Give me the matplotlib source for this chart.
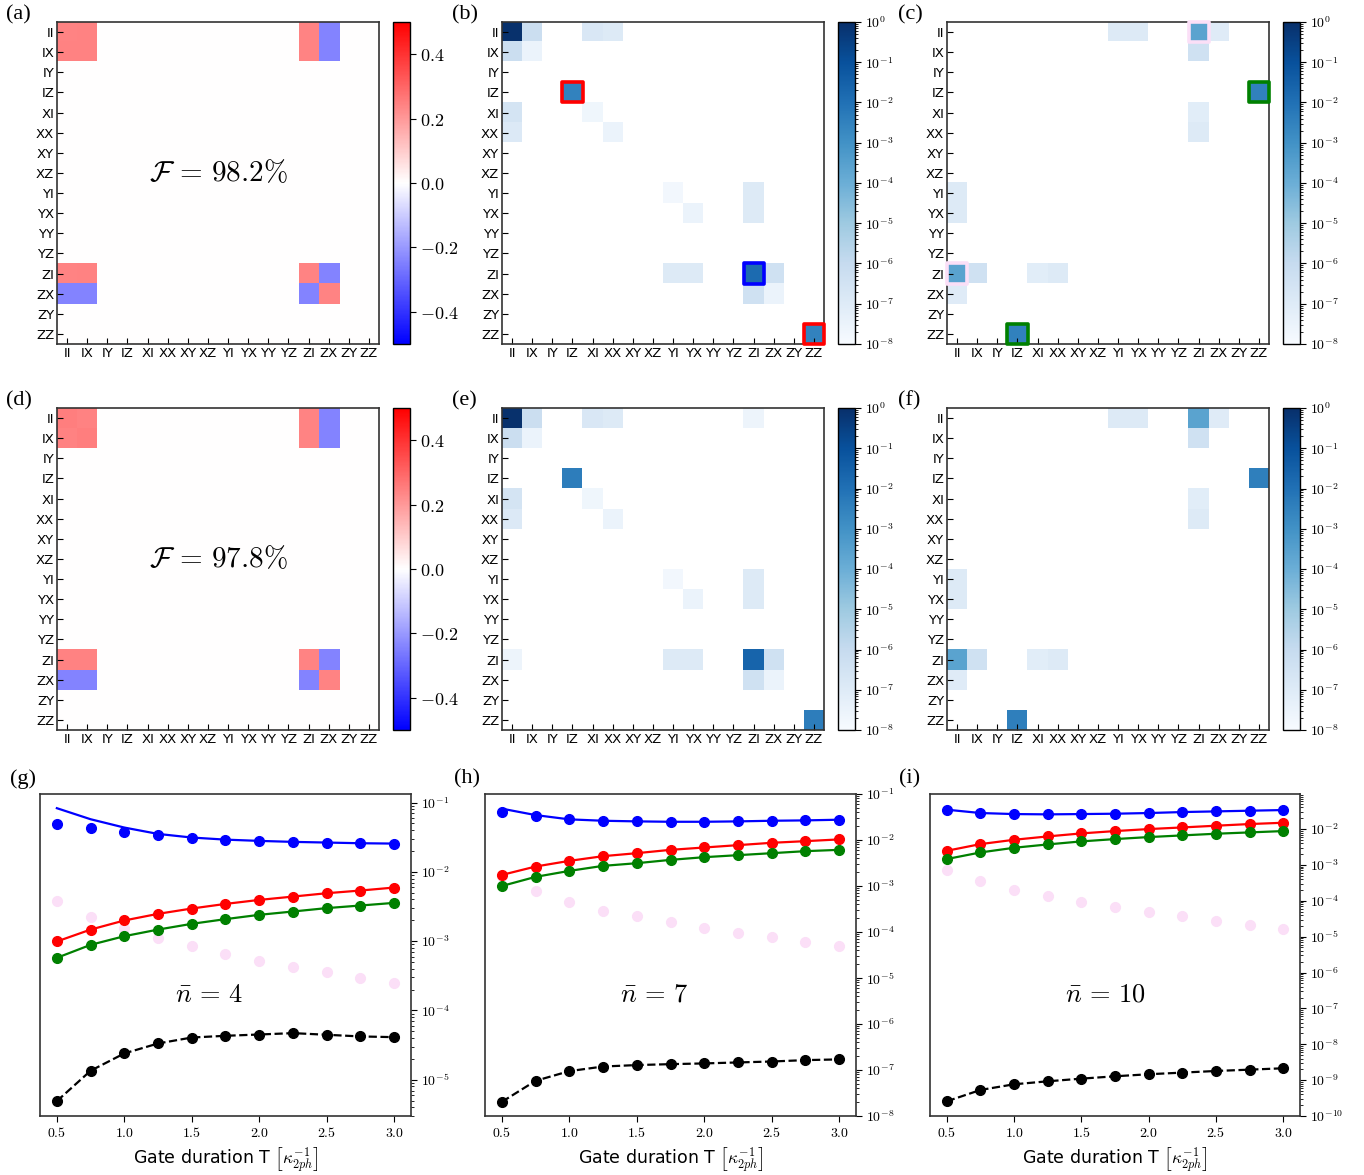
import numpy as np
import matplotlib
matplotlib.use('Agg')
import matplotlib.pyplot as plt
from matplotlib.colors import LogNorm
from matplotlib.patches import Rectangle
from matplotlib.ticker import FuncFormatter, LogLocator, NullFormatter

plt.rcParams['mathtext.fontset'] = 'cm'

paulis = ['II', 'IX', 'IY', 'IZ', 'XI', 'XX', 'XY', 'XZ',
          'YI', 'YX', 'YY', 'YZ', 'ZI', 'ZX', 'ZY', 'ZZ']

# real part of the process matrix, only the II/IX/ZI/ZX block is non zero
block_ops = ['II', 'IX', 'ZI', 'ZX']
chi_a = [[0.240, 0.243, 0.240, -0.240],
         [0.243, 0.245, 0.240, -0.240],
         [0.240, 0.243, 0.240, -0.240],
         [-0.240, -0.240, -0.240, 0.240]]
chi_d = [[0.250, 0.245, 0.240, -0.240],
         [0.245, 0.250, 0.240, -0.240],
         [0.245, 0.245, 0.240, -0.240],
         [-0.240, -0.240, -0.240, 0.240]]
fid_a = '98.2'
fid_d = '97.8'

# error process matrices (row, col, |value|)
err_b = [('II', 'II', 0.9), ('II', 'IX', 6e-7), ('II', 'XI', 1.6e-7), ('II', 'XX', 1e-7),
         ('IX', 'II', 6e-7), ('IX', 'IX', 3e-8), ('IZ', 'IZ', 2.8e-3),
         ('XI', 'II', 2.5e-7), ('XI', 'XI', 2e-8), ('XX', 'II', 1.2e-7), ('XX', 'XX', 3e-8),
         ('YI', 'YI', 1.6e-8), ('YI', 'ZI', 1e-7), ('YX', 'YX', 3e-8), ('YX', 'ZI', 1e-7),
         ('ZI', 'YI', 1e-7), ('ZI', 'YX', 1e-7), ('ZI', 'ZI', 1.5e-2), ('ZI', 'ZX', 4e-7),
         ('ZX', 'ZI', 4e-7), ('ZX', 'ZX', 3e-8), ('ZZ', 'ZZ', 2.8e-3)]
err_e = [('II', 'II', 0.9), ('II', 'IX', 6e-7), ('II', 'XI', 1.6e-7), ('II', 'XX', 1e-7),
         ('II', 'ZI', 2.5e-8),
         ('IX', 'II', 6e-7), ('IX', 'IX', 3e-8), ('IZ', 'IZ', 4e-3),
         ('XI', 'II', 2.5e-7), ('XI', 'XI', 2e-8), ('XX', 'II', 1.2e-7), ('XX', 'XX', 3e-8),
         ('YI', 'YI', 1.6e-8), ('YI', 'ZI', 1e-7), ('YX', 'YX', 3e-8), ('YX', 'ZI', 1e-7),
         ('ZI', 'II', 2.5e-8), ('ZI', 'YI', 1e-7), ('ZI', 'YX', 1e-7), ('ZI', 'ZI', 2.5e-2),
         ('ZI', 'ZX', 4e-7), ('ZX', 'ZI', 4e-7), ('ZX', 'ZX', 3e-8), ('ZZ', 'ZZ', 4e-3)]
err_c = [('II', 'YI', 1e-7), ('II', 'YX', 1e-7), ('II', 'ZI', 2.5e-4), ('II', 'ZX', 9e-8),
         ('IX', 'ZI', 4e-7), ('IZ', 'ZZ', 3e-3), ('XI', 'ZI', 7e-8), ('XX', 'ZI', 1e-7),
         ('YI', 'II', 1e-7), ('YX', 'II', 1e-7),
         ('ZI', 'II', 2.5e-4), ('ZI', 'IX', 4e-7), ('ZI', 'XI', 7e-8), ('ZI', 'XX', 1e-7),
         ('ZX', 'II', 9e-8), ('ZZ', 'IZ', 3e-3)]
err_f = [('II', 'YI', 1e-7), ('II', 'YX', 1e-7), ('II', 'ZI', 2.5e-4), ('II', 'ZX', 9e-8),
         ('IX', 'ZI', 4e-7), ('IZ', 'ZZ', 3.5e-3), ('XI', 'ZI', 7e-8), ('XX', 'ZI', 1e-7),
         ('YI', 'II', 1e-7), ('YX', 'II', 1e-7),
         ('ZI', 'II', 2.5e-4), ('ZI', 'IX', 4e-7), ('ZI', 'XI', 7e-8), ('ZI', 'XX', 1e-7),
         ('ZX', 'II', 9e-8), ('ZZ', 'IZ', 3.5e-3)]

pink = '#fbdff7'
boxes_b = [('IZ', 'IZ', 'red'), ('ZZ', 'ZZ', 'red'), ('ZI', 'ZI', 'blue')]
boxes_c = [('IZ', 'ZZ', 'green'), ('ZZ', 'IZ', 'green'), ('II', 'ZI', pink), ('ZI', 'II', pink)]

# error rates vs gate duration
T = [0.5, 0.75, 1.0, 1.25, 1.5, 1.75, 2.0, 2.25, 2.5, 2.75, 3.0]

g_blue = [0.049, 0.0427, 0.0378, 0.0338, 0.0313, 0.0292, 0.028, 0.0271, 0.0265, 0.0259, 0.0256]
g_blue_fit = [0.083, 0.0575, 0.0436, 0.0353, 0.0313, 0.0292, 0.028, 0.0271, 0.0265, 0.0259, 0.0256]
g_red = [0.00099, 0.00147, 0.00199, 0.00248, 0.00296, 0.00345, 0.00394, 0.0044, 0.00492, 0.00538, 0.00594]
g_green = [0.000575, 0.000885, 0.00118, 0.00147, 0.00178, 0.00208, 0.0024, 0.00268, 0.003, 0.00327, 0.00357]
g_pink = [0.00378, 0.00227, 0.00154, 0.0011, 0.000838, 0.00065, 0.00052, 0.000431, 0.000357, 0.000296, 0.000248]
g_black = [4.92e-6, 1.35e-5, 2.4e-5, 3.34e-5, 4.07e-5, 4.31e-5, 4.5e-5, 4.71e-5, 4.46e-5, 4.22e-5, 4.12e-5]

h_blue = [0.0398, 0.0326, 0.0281, 0.0262, 0.0254, 0.0249, 0.0249, 0.0254, 0.0262, 0.0267, 0.0276]
h_blue_fit = [0.048, 0.0348, 0.0281, 0.0262, 0.0254, 0.0249, 0.0249, 0.0254, 0.0262, 0.0267, 0.0276]
h_red = [0.00174, 0.00265, 0.00352, 0.00445, 0.00517, 0.00611, 0.00687, 0.00773, 0.00869, 0.00944, 0.0103]
h_green = [0.001, 0.00158, 0.00213, 0.00274, 0.00313, 0.0037, 0.00423, 0.00468, 0.00517, 0.00572, 0.00611]
h_pink = [0.00166, 0.00078, 0.000457, 0.000286, 0.000219, 0.000162, 0.000124, 9.64e-5, 7.62e-5, 6.13e-5, 4.93e-5]
h_black = [2.03e-8, 5.82e-8, 9.45e-8, 1.19e-7, 1.28e-7, 1.34e-7, 1.39e-7, 1.46e-7, 1.53e-7, 1.64e-7, 1.7e-7]

i_blue = [0.0347, 0.028, 0.0262, 0.0257, 0.0262, 0.0268, 0.028, 0.0298, 0.0311, 0.0325, 0.0339]
i_blue_fit = [0.0347, 0.028, 0.0262, 0.0257, 0.0262, 0.0268, 0.028, 0.0298, 0.0311, 0.0325, 0.0339]
i_red = [0.00248, 0.00381, 0.00503, 0.00624, 0.00757, 0.00879, 0.01, 0.0111, 0.0124, 0.0138, 0.015]
i_green = [0.00146, 0.00223, 0.00301, 0.00373, 0.00453, 0.00526, 0.00598, 0.00666, 0.00741, 0.00807, 0.00879]
i_pink = [0.000733, 0.000347, 0.000203, 0.000132, 9.18e-5, 6.66e-5, 4.83e-5, 3.66e-5, 2.77e-5, 2.14e-5, 1.62e-5]
i_black = [2.57e-10, 5.32e-10, 7.66e-10, 9.28e-10, 1.1e-9, 1.28e-9, 1.46e-9, 1.62e-9, 1.8e-9, 1.96e-9, 2.14e-9]

W, H = 1364, 1175
fig = plt.figure(figsize=(W / 100, H / 100), dpi=100)


def px_axes(x0, y0, x1, y1):
    return fig.add_axes([x0 / W, 1 - y1 / H, (x1 - x0) / W, (y1 - y0) / H])


def label_axes(ax):
    ax.set_xticks(range(16))
    ax.set_xticklabels(paulis, fontsize=9.5)
    ax.set_yticks(range(16))
    ax.set_yticklabels(paulis, fontsize=9.5)
    ax.tick_params(direction='in', length=4, pad=2)
    for s in ax.spines.values():
        s.set_linewidth(1.2)
        s.set_color('#333333')


def real_panel(x0, y0, block, fid):
    M = np.zeros((16, 16))
    for i, r in enumerate(block_ops):
        for j, c in enumerate(block_ops):
            M[paulis.index(r), paulis.index(c)] = block[i][j]
    ax = px_axes(x0, y0, x0 + 322, y0 + 322)
    im = ax.imshow(M, cmap='bwr', vmin=-0.5, vmax=0.5, interpolation='nearest')
    label_axes(ax)
    ax.text(7.5, 7.0, r'$\mathcal{F}\,=\,%s\%%$' % fid, ha='center', va='center', fontsize=21)
    cax = px_axes(x0 + 336, y0, x0 + 353, y0 + 322)
    cb = fig.colorbar(im, cax=cax, ticks=[-0.4, -0.2, 0.0, 0.2, 0.4])
    cb.ax.yaxis.set_major_formatter(FuncFormatter(lambda v, p: r'$%.1f$' % v if abs(v) > 1e-9 else r'$0.0$'))
    cb.ax.tick_params(labelsize=13, length=4)
    cb.outline.set_linewidth(1.0)


def err_panel(x0, y0, cells, boxes=()):
    M = np.zeros((16, 16))
    for r, c, v in cells:
        M[paulis.index(r), paulis.index(c)] = v
    M = np.ma.masked_less_equal(M, 0)
    cmap = plt.get_cmap('Blues').copy()
    cmap.set_bad('white')
    ax = px_axes(x0, y0, x0 + 322, y0 + 322)
    im = ax.imshow(M, cmap=cmap, norm=LogNorm(vmin=1e-8, vmax=1), interpolation='nearest')
    label_axes(ax)
    for r, c, col in boxes:
        ax.add_patch(Rectangle((paulis.index(c) - 0.5, paulis.index(r) - 0.5), 1, 1, fill=False,
                               edgecolor=col, lw=2.6, joinstyle='round', clip_on=False, zorder=5))
    cax = px_axes(x0 + 336, y0, x0 + 353, y0 + 322)
    cb = fig.colorbar(im, cax=cax, ticks=[10.0 ** k for k in range(-8, 1)])
    cb.ax.yaxis.set_major_formatter(FuncFormatter(lambda v, p: r'$10^{%d}$' % round(np.log10(v))))
    cb.ax.yaxis.set_minor_locator(LogLocator(base=10, subs=np.arange(2, 10), numticks=100))
    cb.ax.yaxis.set_minor_formatter(NullFormatter())
    cb.ax.tick_params(labelsize=10, length=4)
    cb.ax.tick_params(which='minor', length=2)
    cb.outline.set_linewidth(1.0)


def rate_panel(x0, x1, blue, blue_fit, red, green, pinks, black, ylim, nbar):
    ax = px_axes(x0, 794, x1, 1116)
    ms = 7
    ax.plot(T, pinks, 'o', color=pink, ms=ms, zorder=1)
    ax.plot(T, blue_fit, '-', color='blue', lw=1.6, zorder=3)
    ax.plot(T, blue, 'o', color='blue', ms=ms, zorder=3)
    ax.plot(T, red, '-o', color='red', lw=1.6, ms=ms, zorder=3)
    ax.plot(T, green, '-o', color='green', lw=1.6, ms=ms, zorder=3)
    ax.plot(T, black, '--o', color='black', lw=1.6, ms=ms, zorder=3)
    ax.set_yscale('log')
    ax.set_ylim(*ylim)
    ax.yaxis.tick_right()
    ax.yaxis.set_major_locator(LogLocator(base=10, numticks=100))
    ax.yaxis.set_minor_locator(LogLocator(base=10, subs=np.arange(2, 10), numticks=100))
    ax.yaxis.set_minor_formatter(NullFormatter())
    ax.yaxis.set_major_formatter(FuncFormatter(lambda v, p: r'$10^{%d}$' % round(np.log10(v))))
    ax.set_xticks([0.5, 1.0, 1.5, 2.0, 2.5, 3.0])
    ax.xaxis.set_major_formatter(FuncFormatter(lambda v, p: r'$%.1f$' % v))
    ax.tick_params(labelsize=10, length=4)
    ax.tick_params(which='minor', length=2)
    ax.set_xlabel(r'Gate duration T $\left[\kappa_{2ph}^{-1}\right]$', fontsize=12.5, labelpad=4)
    ax.text(0.364, 0.376, r'$\bar{n}\,=\,%d$' % nbar, transform=ax.transAxes,
            ha='left', va='center', fontsize=19)
    for s in ax.spines.values():
        s.set_linewidth(1.2)
        s.set_color('#333333')


real_panel(57, 22, chi_a, fid_a)
err_panel(502, 22, err_b, boxes_b)
err_panel(947, 22, err_c, boxes_c)
real_panel(57, 408, chi_d, fid_d)
err_panel(502, 408, err_e)
err_panel(947, 408, err_f)

rate_panel(40, 411, g_blue, g_blue_fit, g_red, g_green, g_pink, g_black, (3.0e-6, 0.133), 4)
rate_panel(485, 856, h_blue, h_blue_fit, h_red, h_green, h_pink, h_black, (1e-8, 1e-1), 7)
rate_panel(930, 1300, i_blue, i_blue_fit, i_red, i_green, i_pink, i_black, (1e-10, 0.095), 10)

panel_pos = [('(a)', 6, 15), ('(b)', 452, 15), ('(c)', 898, 15),
             ('(d)', 6, 401), ('(e)', 452, 401), ('(f)', 898, 401),
             ('(g)', 10, 779), ('(h)', 454, 779), ('(i)', 899, 779)]
for lab, x, y in panel_pos:
    fig.text(x / W, 1 - y / H, lab, fontsize=16, family='Liberation Serif', va='center', ha='left')

fig.savefig('out.png', dpi=100)
